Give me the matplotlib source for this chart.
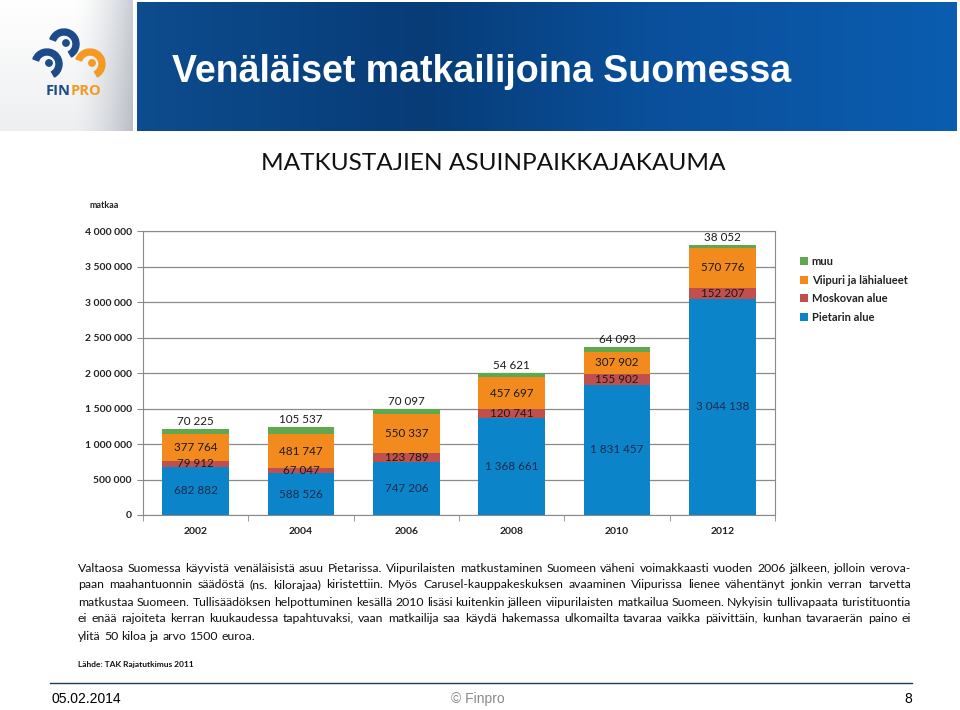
import matplotlib
matplotlib.use("Agg")
import matplotlib.pyplot as plt
import numpy as np
from matplotlib.patches import Wedge, Circle
from matplotlib.colors import LinearSegmentedColormap
from matplotlib.ticker import FuncFormatter, MultipleLocator

# data
years = ["2002", "2004", "2006", "2008", "2010", "2012"]
pietari = [682882, 588526, 747206, 1368661, 1831457, 3044138]
moskova = [79912, 67047, 123789, 120741, 155902, 152207]
viipuri = [377764, 481747, 550337, 457697, 307902, 570776]
muu = [70225, 105537, 70097, 54621, 64093, 38052]
names = ["Pietarin alue", "Moskovan alue", "Viipuri ja lähialueet", "muu"]
colors = ["#0B84C9", "#C0504D", "#F28A1E", "#5FA84F"]

slide_title = "Venäläiset matkailijoina Suomessa"
chart_title = "MATKUSTAJIEN ASUINPAIKKAJAKAUMA"
body = [
    "Valtaosa Suomessa käyvistä venäläisistä asuu Pietarissa. Viipurilaisten matkustaminen Suomeen väheni voimakkaasti vuoden 2006 jälkeen, jolloin verova-",
    "paan maahantuonnin säädöstä (ns. kilorajaa) kiristettiin. Myös Carusel-kauppakeskuksen avaaminen Viipurissa lienee vähentänyt jonkin verran tarvetta",
    "matkustaa Suomeen. Tullisäädöksen helpottuminen kesällä 2010 lisäsi kuitenkin jälleen viipurilaisten matkailua Suomeen. Nykyisin tullivapaata turistituontia",
    "ei enää rajoiteta kerran kuukaudessa tapahtuvaksi, vaan matkailija saa käydä hakemassa ulkomailta tavaraa vaikka päivittäin, kunhan tavaraerän paino ei",
    "ylitä 50 kiloa ja arvo 1500 euroa.",
]
source = "Lähde: TAK Rajatutkimus 2011"

W, H = 960, 710
fig = plt.figure(figsize=(W / 100, H / 100), dpi=100)

# background axes in pixel coordinates
bg = fig.add_axes([0, 0, 1, 1], zorder=0)
bg.set_axis_off()

# logo panel with soft grey gradient
xx, yy = np.meshgrid(np.linspace(0, 1, 120), np.linspace(0, 1, 120))
shade = np.clip((xx - 0.55) / 0.45, 0, 1) ** 1.5 * 0.75 + yy * 0.25
grey = LinearSegmentedColormap.from_list("g", ["#ffffff", "#b9bec6"])
bg.imshow(shade, cmap=grey, vmin=0, vmax=1, extent=(0, 133, 131, 0), aspect="auto")

# blue banner
blue = LinearSegmentedColormap.from_list(
    "b", [(0.0, "#0d4c8e"), (0.35, "#073c77"), (0.62, "#0a4f9a"), (1.0, "#0b5db0")])
bg.imshow(np.linspace(0, 1, 256)[None, :], cmap=blue, extent=(137, 957, 131, 2), aspect="auto")
bg.text(172, 72, slide_title, color="white", fontsize=27, fontweight="bold",
        family="Liberation Sans", va="center", ha="left")

# simple logo
dark, orng = "#1d4a8a", "#f39a25"
for cx, cy, col in [(64, 44, dark), (47, 64, dark), (90, 64, orng)]:
    bg.add_patch(Wedge((cx, cy), 15, 200, 60, width=6, color=col))
    bg.add_patch(Circle((cx + 2, cy - 1), 3.2, color=col))
bg.text(71, 91, "FIN", color=dark, fontsize=10.5, fontweight="bold", family="Open Sans",
        ha="right", va="center")
bg.text(71, 91, "PRO", color=orng, fontsize=10.5, fontweight="bold", family="Open Sans",
        ha="left", va="center")

# chart titles
bg.text(493, 163, chart_title, fontsize=17.6, family="Lato", color="#111111",
        ha="center", va="center")
bg.text(90, 206, "matkaa", fontsize=6.5, family="Lato", fontweight="bold", color="#222222",
        ha="left", va="center")

# chart
ax = fig.add_axes([143 / W, 1 - 515 / H, 632 / W, 284 / H], zorder=1)
x = np.arange(len(years))
bottom = np.zeros(len(years))
segs = [pietari, moskova, viipuri, muu]
for vals, col, name in zip(segs, colors, names):
    ax.bar(x, vals, 0.63, bottom=bottom, color=col, label=name, zorder=3)
    for xi, b, v in zip(x, bottom, vals):
        lab = f"{v:,}".replace(",", " ")
        if name == "muu":
            ax.annotate(lab, (xi, b + v), xytext=(0, 1.5), textcoords="offset points",
                        ha="center", va="bottom", fontsize=8.4, family="Lato", color="#1a1a1a")
        else:
            tc = "#1c2a48" if name == "Pietarin alue" else "#1a1a1a"
            ax.text(xi, b + v / 2, lab, ha="center", va="center", fontsize=8.4,
                    family="Lato", color=tc, zorder=4)
    bottom += np.array(vals)

ax.set_xlim(-0.5, len(years) - 0.5)
ax.set_ylim(0, 4000000)
ax.yaxis.set_major_locator(MultipleLocator(500000))
ax.yaxis.set_major_formatter(FuncFormatter(lambda v, p: f"{int(v):,}".replace(",", " ")))
ax.grid(axis="y", color="#8a8a8a", lw=0.9, zorder=0)
for s in ax.spines.values():
    s.set_color("#8a8a8a")
ax.set_xticks(x)
ax.set_xticklabels(years)
ax.set_xticks(np.arange(-0.5, len(years)), minor=True)
ax.tick_params(axis="x", which="major", length=0, pad=9)
ax.tick_params(axis="x", which="minor", length=4, color="#8a8a8a", direction="out")
ax.tick_params(axis="y", length=4, color="#8a8a8a", pad=4)
for t in ax.get_xticklabels() + ax.get_yticklabels():
    t.set_family("Lato")
    t.set_fontsize(7.5)
    t.set_color("#222222")
    t.set_fontweight("bold")

h, l = ax.get_legend_handles_labels()
leg = fig.legend(h[::-1], l[::-1], loc="upper left", bbox_to_anchor=(790 / W, 1 - 246 / H),
                 frameon=False, handlelength=0.75, handleheight=0.75, handletextpad=0.3,
                 labelspacing=0.68, prop={"family": "Lato", "size": 8, "weight": "bold"})
for t in leg.get_texts():
    t.set_color("#222222")

# justified body text
renderer = fig.canvas.get_renderer()
fs = 8.8
for i, line in enumerate(body):
    y = 568 + i * 17
    words = line.split()
    ts = [bg.text(0, y, w, fontsize=fs, family="Lato", color="#111111", va="center")
          for w in words]
    ws = [t.get_window_extent(renderer).width for t in ts]
    if i == len(body) - 1:
        gap = fs * 100 / 72 * 0.27
    else:
        gap = max((911 - 78 - sum(ws)) / (len(words) - 1), 1.5)
    xp = 78
    for t, w in zip(ts, ws):
        t.set_x(xp)
        xp += w + gap
bg.text(78, 664, source, fontsize=6, family="Lato", fontweight="bold", color="#111111",
        va="center")

# footer
bg.plot([50, 912], [683, 683], color="#1f3d5c", lw=1)
bg.text(52, 699, "05.02.2014", fontsize=10, family="Liberation Sans", va="center", ha="left")
bg.text(478, 699, "© Finpro", fontsize=10, family="Liberation Sans", color="#8a8a8a",
        va="center", ha="center")
bg.text(912, 699, "8", fontsize=10, family="Liberation Sans", va="center", ha="right")

bg.set_xlim(0, W)
bg.set_ylim(H, 0)
fig.savefig("out.png", dpi=100)
